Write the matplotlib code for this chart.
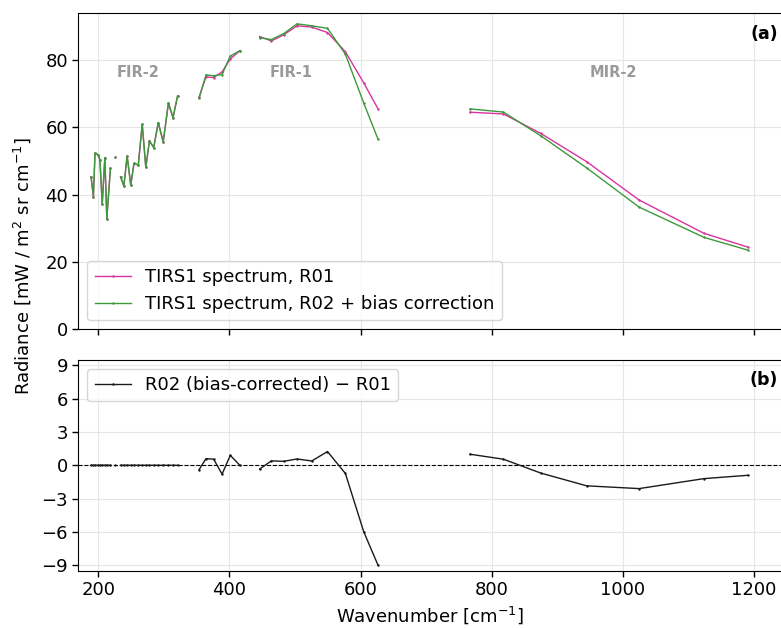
import numpy as np
import matplotlib
matplotlib.use("Agg")
import matplotlib.pyplot as plt

nan = np.nan

# ---- data ----
# FIR-2 band (R01 and R02+bias are identical here)
fir2_wn = [189, 192.5, 195, 200, 202.5, 206, 210, 213, 218.5, nan, 226, nan,
           234, 239, 244, 249.5, 254.5, 261, 267, 272.5, 278, 284.5, 291.5, 299, 307, 314, 321]
fir2_r01 = [45.3, 39.4, 52.3, 51.8, 50.3, 37.2, 51.0, 32.9, 47.8, nan, 51.1, nan,
            45.3, 42.6, 51.5, 42.9, 49.3, 48.8, 60.9, 48.1, 56.0, 54.0, 61.4, 55.7, 67.2, 62.9, 69.4]
fir2_r02 = [45.3, 39.4, 52.3, 51.8, 50.3, 37.2, 51.0, 32.9, 47.8, nan, 51.1, nan,
            45.3, 42.6, 51.5, 42.9, 49.3, 48.8, 60.9, 48.1, 56.0, 54.0, 61.4, 55.7, 67.2, 62.9, 69.4]

# FIR-1 band
fir1_wn = [353.7, 364.3, 376, 388.8, 401.3, 416, nan,
           446.2, 464, 482.8, 503.2, 525.7, 549.6, 576.9, 605, 626.7]
fir1_r01 = [69.0, 75.0, 74.8, 76.5, 80.3, 82.8, nan,
            87.0, 85.7, 87.5, 90.2, 89.8, 88.2, 82.5, 73.2, 65.5]
fir1_r02 = [68.6, 75.6, 75.35, 75.7, 81.2, 82.8, nan,
            86.66, 86.1, 87.86, 90.77, 90.19, 89.44, 81.77, 67.2, 56.5]

# MIR-2 band
mir2_wn = [767, 818, 875, 945, 1025, 1124, 1191]
mir2_r01 = [64.5, 64.0, 58.2, 49.8, 38.4, 28.5, 24.4]
mir2_r02 = [65.5, 64.55, 57.5, 47.95, 36.3, 27.3, 23.5]

band_labels = ["FIR-2", "FIR-1", "MIR-2"]
band_label_x = [260, 494, 985]

c_r01 = "#d9339f"
c_r02 = "#3b9b3b"

wn = np.array(fir2_wn + [nan] + fir1_wn + [nan] + mir2_wn, dtype=float)
r01 = np.array(fir2_r01 + [nan] + fir1_r01 + [nan] + mir2_r01, dtype=float)
r02 = np.array(fir2_r02 + [nan] + fir1_r02 + [nan] + mir2_r02, dtype=float)
diff = r02 - r01

plt.rcParams["font.family"] = ["DejaVu Sans"]
plt.rcParams["font.size"] = 13

fig = plt.figure(figsize=(7.81, 6.28), dpi=100)
gs = fig.add_gridspec(2, 1, height_ratios=[3, 2], hspace=0.1165,
                      left=78.3 / 781, right=782 / 781,
                      top=1 - 13 / 628, bottom=1 - 570.7 / 628)
ax1 = fig.add_subplot(gs[0])
ax2 = fig.add_subplot(gs[1], sharex=ax1)

for ax in (ax1, ax2):
    ax.grid(True, color="#e6e6e6", linewidth=0.8)
    ax.set_axisbelow(True)
    ax.tick_params(labelsize=13, length=4, width=1)

ax1.plot(wn, r01, color=c_r01, lw=1.0, marker=".", ms=1.5, label="TIRS1 spectrum, R01")
ax1.plot(wn, r02, color=c_r02, lw=1.0, marker=".", ms=1.5,
         label="TIRS1 spectrum, R02 + bias correction")
for lab, x in zip(band_labels, band_label_x):
    ax1.text(x, 76.4, lab, color="#9a9a9a", fontsize=10.5, fontweight="bold",
             ha="center", va="center")
ax1.set_ylim(0, 94)
ax1.set_yticks([0, 20, 40, 60, 80])
ax1.set_xlim(169.5, 1243)
ax1.tick_params(labelbottom=False)
ax1.legend(loc="lower left", fontsize=13, framealpha=0.8, handlelength=2.0)
ax1.annotate("(a)", xy=(1, 1), xycoords="axes fraction", xytext=(-3.0, -8.5),
             textcoords="offset points", ha="right", va="top",
             fontweight="bold", fontsize=12.5)

ax2.axhline(0, color="black", lw=0.8, ls="--")
ax2.plot(wn, diff, color="#1a1a1a", lw=1.0, marker=".", ms=1.5,
         label="R02 (bias-corrected) \u2212 R01")
ax2.set_ylim(-9.5, 9.5)
ax2.set_yticks([-9, -6, -3, 0, 3, 6, 9])
ax2.legend(loc="upper left", fontsize=13, framealpha=0.8, handlelength=2.0)
ax2.annotate("(b)", xy=(1, 1), xycoords="axes fraction", xytext=(-3.0, -8),
             textcoords="offset points", ha="right", va="top",
             fontweight="bold", fontsize=12.5)
ax2.set_xlabel("Wavenumber [cm$^{-1}$]", fontsize=13)

fig.text(0.028, 1 - 266 / 628, "Radiance [mW / m$^2$ sr cm$^{-1}$]",
         rotation=90, ha="center", va="center", fontsize=13)

fig.savefig("out.png", dpi=100)
